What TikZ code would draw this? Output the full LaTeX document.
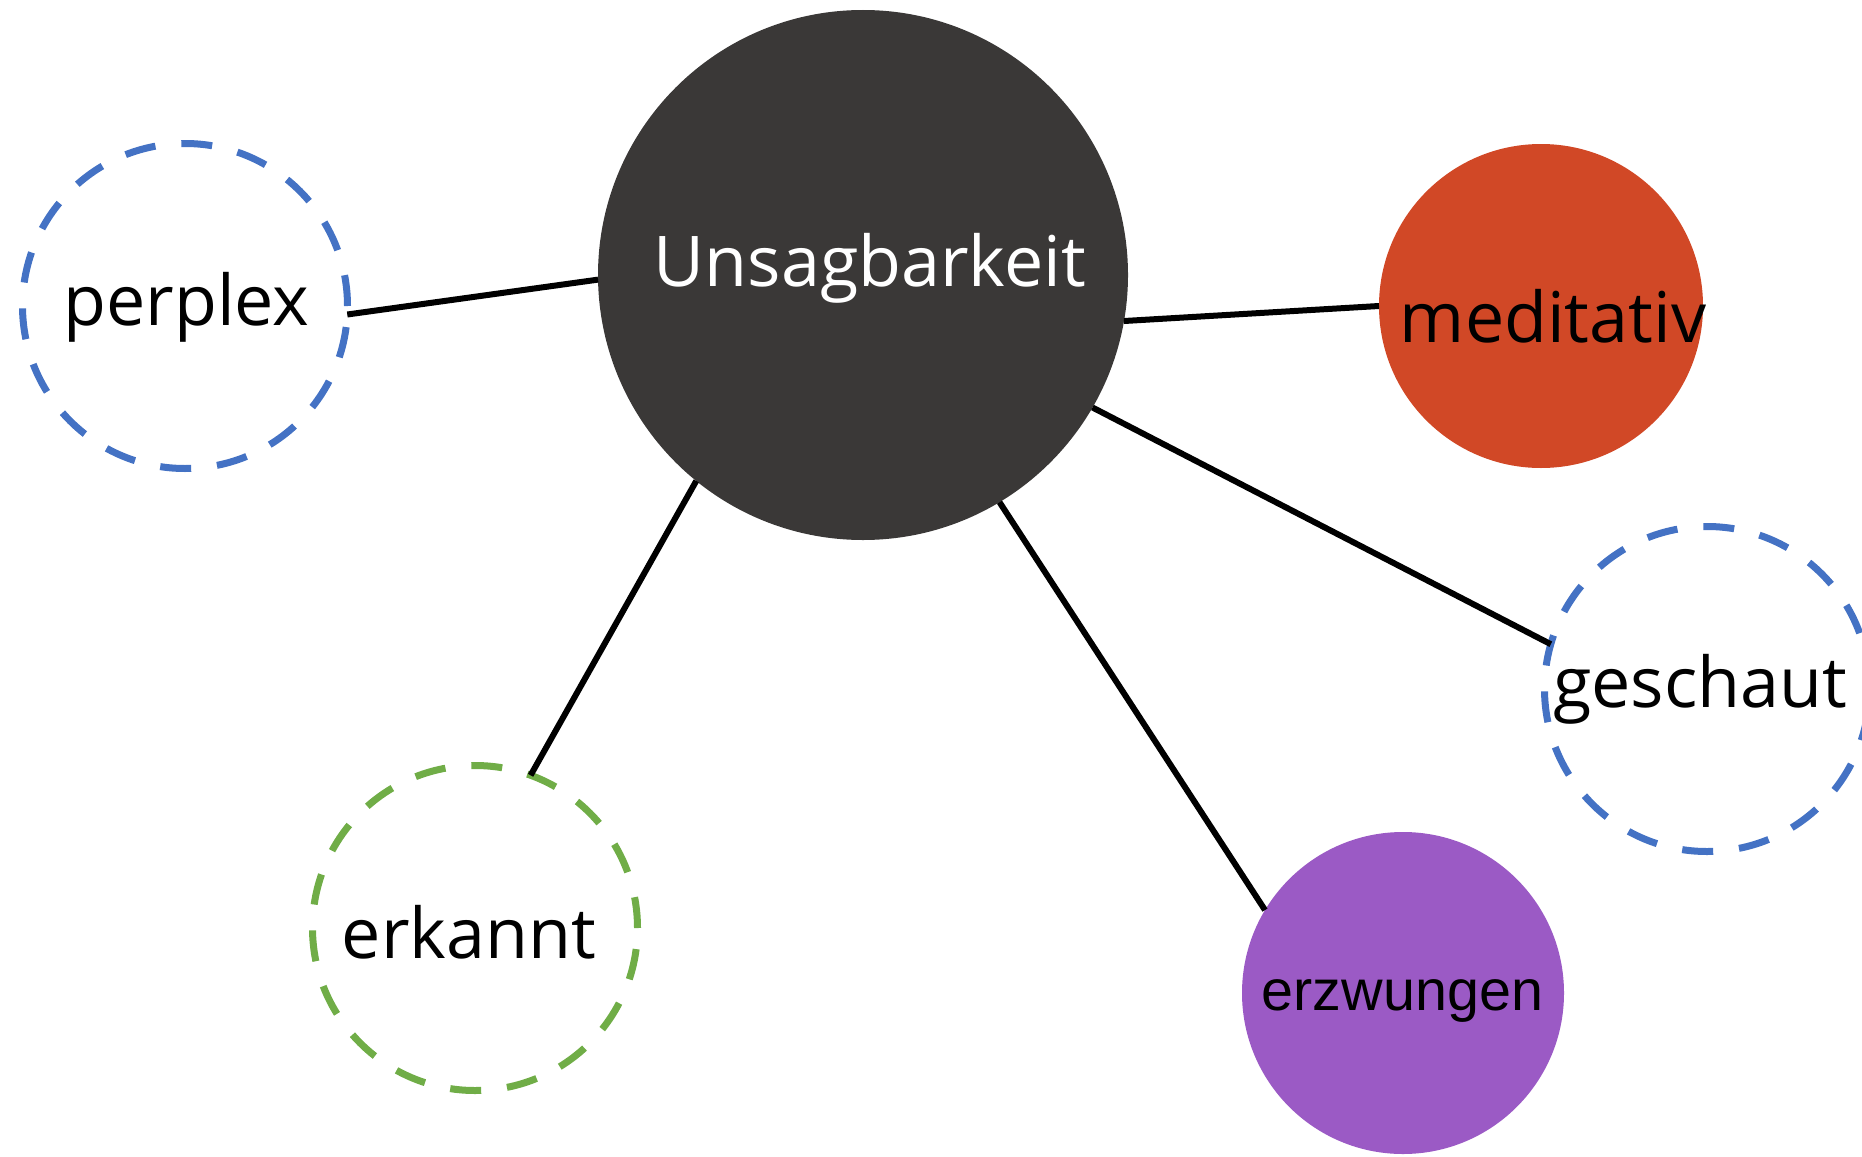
\documentclass[tikz,border=0pt]{standalone}
\usepackage{fontspec}
\setmainfont{Open Sans}
\newfontfamily\arialfont{Liberation Sans}
\definecolor{hubgray}{HTML}{3A3837}
\definecolor{dashblue}{HTML}{4472C4}
\definecolor{dashgreen}{HTML}{70AD47}
\definecolor{rustred}{HTML}{D14826}
\definecolor{orchidpurple}{HTML}{9B5AC5}
\begin{document}
\begin{tikzpicture}[x=1pt,y=-1pt,
  bubble/.style={circle, inner sep=0pt, outer sep=0pt},
  dashring/.style={bubble, draw, line width=7pt, dash pattern=on 31pt off 26pt},
  link/.style={line width=6pt, black},
  word/.style={anchor=base, inner sep=0pt, font=\fontsize{70}{84}\selectfont}]
\useasboundingbox (0,0) rectangle (1862,1156);
\clip (0,0) rectangle (1862,1156);

% circles
\node[bubble, fill=hubgray, minimum size=530pt] (hub) at (863,275) {};
\node[dashring, dashblue, minimum size=325pt] (perplex) at (185,306) {};
\node[bubble, fill=rustred, minimum size=324pt] (meditativ) at (1541,306) {};
\node[dashring, dashblue, minimum size=325pt] (geschaut) at (1707,689) {};
\node[dashring, dashgreen, minimum size=325pt] (erkannt) at (475,928) {};
\node[bubble, fill=orchidpurple, minimum size=322pt] (erzwungen) at (1403,993) {};

% connectors
\draw[link] (perplex.-3) -- (hub.181);
\draw[link] (hub.-10.5) -- (meditativ.180);
\draw[link] (hub.-30) -- (geschaut.164);
\draw[link] (hub.231.7) -- (erkannt.70.5);
\draw[link] (hub.-59.2) -- (erzwungen.149.6);

% labels
\node[word, text=white] (hub-label) at (870,286) {Unsagbarkeit};
\node[word] (perplex-label) at (186.5,325) {perplex};
\node[word] (meditativ-label) at (1553,342) {meditativ};
\node[word] (geschaut-label) at (1700,707) {geschaut};
\node[word] (erkannt-label) at (469,958) {erkannt};
\node[word, font=\arialfont\fontsize{57.5}{69}\selectfont] (erzwungen-label) at (1402.5,1010) {erzwungen};
\end{tikzpicture}
\end{document}
